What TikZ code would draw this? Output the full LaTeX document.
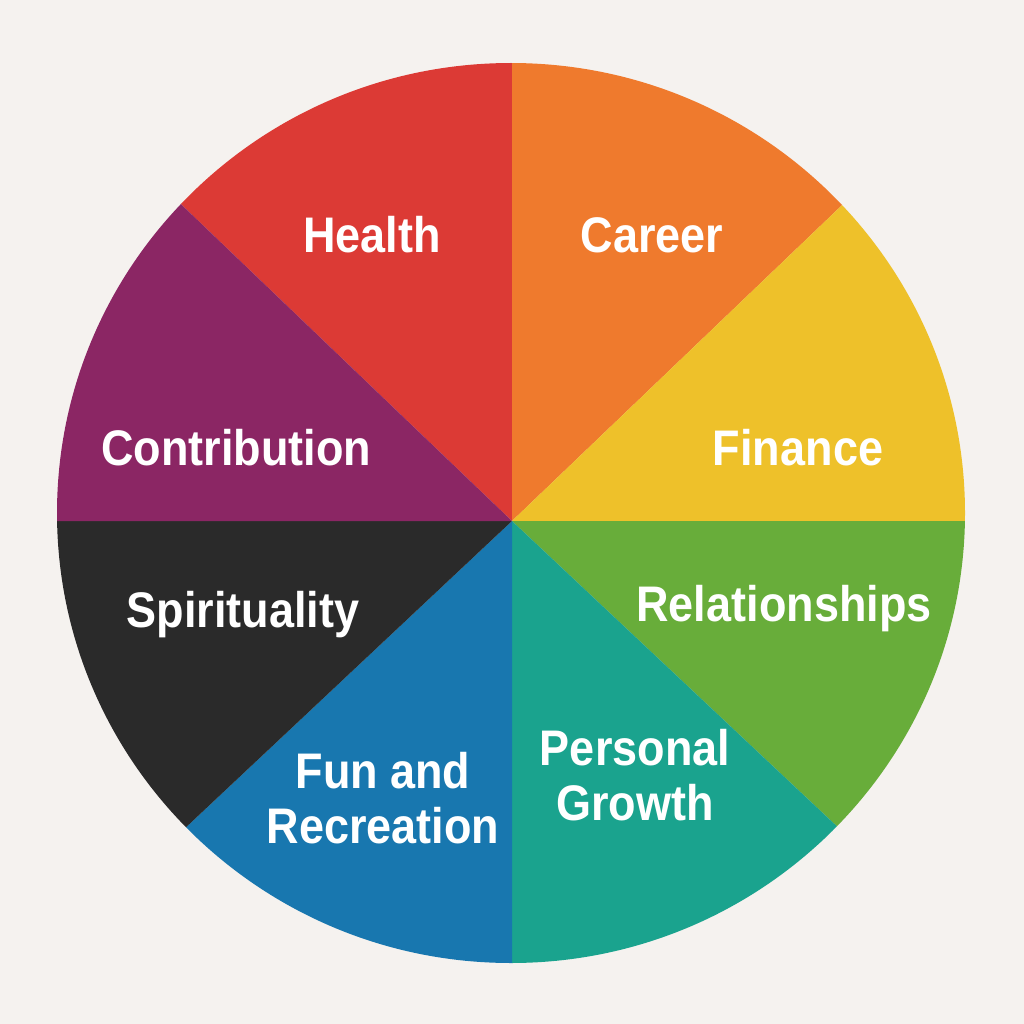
\documentclass[tikz,border=0pt]{standalone}
\usepackage{fontspec}
\newfontfamily\lblfont{Liberation Sans}[FakeStretch=0.9]
\definecolor{bgc}{HTML}{F5F2EF}
\definecolor{cred}{HTML}{DC3A35}
\definecolor{corange}{HTML}{EF7A2D}
\definecolor{cyellow}{HTML}{EEC12A}
\definecolor{cgreen}{HTML}{68AD3A}
\definecolor{cteal}{HTML}{1AA38E}
\definecolor{cblue}{HTML}{1877AF}
\definecolor{cblack}{HTML}{2A2A2A}
\definecolor{cpurple}{HTML}{8B2664}
\begin{document}
\begin{tikzpicture}[x=1pt,y=-1pt,
  lbl/.style={text=white,font=\lblfont\bfseries\fontsize{50}{55}\selectfont,align=center,anchor=base,inner sep=0pt}]
\useasboundingbox (0,0) rectangle (1024,1024);
\fill[bgc] (0,0) rectangle (1024,1024);
\coordinate (c) at (512,521);
\begin{scope}
\clip (511,513) ellipse [x radius=454, y radius=450];
\fill[cred]    (c) -- (512,-10) -- (0,-10) -- (0,31) -- cycle;
\fill[corange] (c) -- (512,-10) -- (1024,-10) -- (1024,31) -- cycle;
\fill[cyellow] (c) -- (1024,31) -- (1024,521) -- cycle;
\fill[cgreen]  (c) -- (1024,521) -- (1024,1002) -- cycle;
\fill[cteal]   (c) -- (1024,1002) -- (1024,1100) -- (512,1100) -- cycle;
\fill[cblue]   (c) -- (512,1100) -- (0,1100) -- (0,1002) -- cycle;
\fill[cblack]  (c) -- (0,1002) -- (0,521) -- cycle;
\fill[cpurple] (c) -- (0,521) -- (0,31) -- cycle;
\end{scope}
\node[lbl] (health) at (372,252) {Health};
\node[lbl] (career) at (652,252) {Career};
\node[lbl] (contrib) at (236,465) {Contribution};
\node[lbl] (finance) at (798,465) {Finance};
\node[lbl] (spirit) at (243,627) {Spirituality};
\node[lbl] (relat) at (784,621) {Relationships};
\node[lbl] (fun) at (383,843) {Fun and\\Recreation};
\node[lbl] (growth) at (635,820) {Personal\\Growth};
\end{tikzpicture}
\end{document}
